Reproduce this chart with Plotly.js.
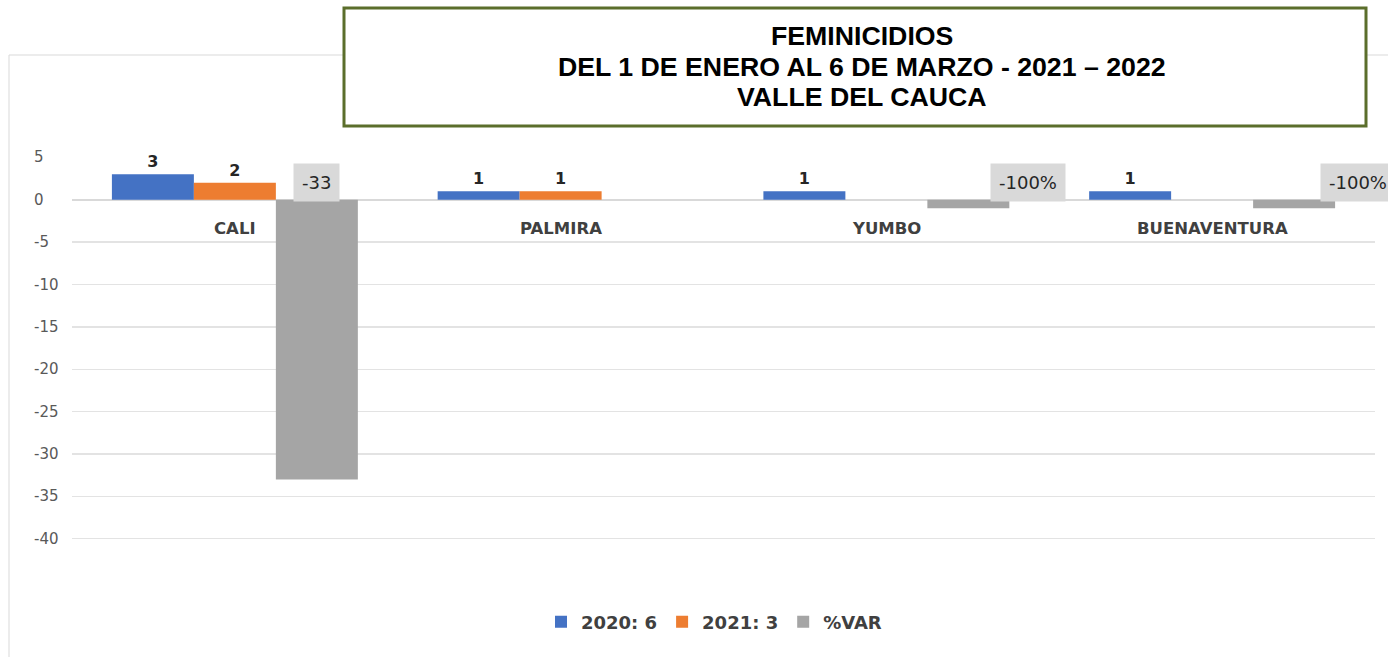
<!DOCTYPE html>
<html>
<head>
<meta charset="utf-8">
<script src="https://cdn.plot.ly/plotly-3.0.1.min.js"></script>
<style>
html,body{margin:0;padding:0;background:#fff;}
#chart{width:1388px;height:657px;}
</style>
</head>
<body>
<div id="chart"></div>
<script>
// ---- data ----
const categories = ["CALI", "PALMIRA", "YUMBO", "BUENAVENTURA"];
const series2020 = [3, 1, 1, 1];
const series2021 = [2, 1, 0, 0];
const seriesVar = [-33, 0, -1, -1];
const varLabels = ["-33", "", "-100%", "-100%"];
const seriesNames = ["2020: 6", "2021: 3", "%VAR"];
const yTicks = [5, 0, -5, -10, -15, -20, -25, -30, -35, -40];
const titleLines = ["FEMINICIDIOS", "DEL 1 DE ENERO AL 6 DE MARZO - 2021 \u2013 2022", "VALLE DEL CAUCA"];

const colors = ["#4472C4", "#ED7D31", "#A5A5A5"];
const lbl = v => v === 0 ? "" : "<b>" + v + "</b>";

const traces = [
  {type: "bar", name: "<b>" + seriesNames[0] + "</b>", x: categories, y: series2020, marker: {color: colors[0]},
   text: series2020.map(lbl), textposition: "outside", cliponaxis: false,
   textfont: {family: "DejaVu Sans", size: 16, color: "#262626"}},
  {type: "bar", name: "<b>" + seriesNames[1] + "</b>", x: categories, y: series2021, marker: {color: colors[1]},
   text: series2021.map(lbl), textposition: "outside", cliponaxis: false,
   textfont: {family: "DejaVu Sans", size: 16, color: "#262626"}},
  {type: "bar", name: "<b>" + seriesNames[2] + "</b>", x: categories, y: seriesVar, marker: {color: colors[2]},
   hoverinfo: "x+y"}
];

const L = 72, R = 13, T = 157, B = 117, W = 1388, H = 657;
const pw = W - L - R, ph = H - T - B;
const px = X => (X - L) / pw;
const py = Y => (H - B - Y) / ph;

const annotations = [];
// y tick labels, left aligned as in the reference
yTicks.forEach(v => {
  annotations.push({xref: "paper", yref: "y", x: px(32), y: v, xanchor: "left", yanchor: "middle",
    text: String(v), showarrow: false, font: {family: "DejaVu Sans", size: 15, color: "#595959"}});
});
// category labels under zero line
categories.forEach((c, i) => {
  annotations.push({xref: "x", yref: "y", x: i, y: 0, yanchor: "top", yshift: -17,
    text: "<b>" + c + "</b>", showarrow: false, font: {family: "DejaVu Sans", size: 16.5, color: "#404040"}});
});
// %VAR data labels with grey boxes
const varShift = [0, 0, 60, 64];
varLabels.forEach((t, i) => {
  if (!t) return;
  annotations.push({xref: "x", yref: "y", x: i + 0.2517, y: 2.1, yanchor: "middle", xanchor: "center",
    xshift: varShift[i], text: t, showarrow: false, bgcolor: "#D9D9D9", borderpad: 8,
    font: {family: "DejaVu Sans", size: 18, color: "#262626"}});
});
// title lines inside box
const titleY = [36, 67, 97];
titleLines.forEach((t, k) => {
  annotations.push({xref: "paper", yref: "paper", x: px(862), y: py(titleY[k]), xanchor: "center", yanchor: "middle",
    text: "<b>" + t + "</b>", showarrow: false,
    font: {family: "Liberation Sans", size: 26.7, color: "#000"}});
});

const shapes = [
  // chart area border
  {type: "rect", xref: "paper", yref: "paper", x0: px(9), x1: px(1400), y0: py(670), y1: py(55),
   line: {color: "#D9D9D9", width: 1}, fillcolor: "rgba(0,0,0,0)", layer: "below"},
  // title box
  {type: "rect", xref: "paper", yref: "paper", x0: px(344), x1: px(1366), y0: py(126), y1: py(8),
   line: {color: "#5B6E2B", width: 3}, fillcolor: "#FFFFFF", layer: "above"}
];

const layout = {
  width: W, height: H,
  margin: {l: L, r: R, t: T, b: B, pad: 0},
  paper_bgcolor: "#fff", plot_bgcolor: "#fff",
  barmode: "group", bargap: 0.245, bargroupgap: 0,
  showlegend: true,
  legend: {orientation: "h", x: px(714), xanchor: "center", y: py(622), yanchor: "middle",
    font: {family: "DejaVu Sans", size: 18, color: "#404040"}, itemwidth: 30, traceorder: "normal"},
  xaxis: {type: "category", range: [-0.5, 3.5], showticklabels: false, showgrid: false,
    zeroline: false, showline: false, ticks: ""},
  yaxis: {range: [-40.15, 5.05], tickvals: yTicks, showticklabels: false, showgrid: true,
    gridcolor: "#E3E3E3", gridwidth: 1.5, zeroline: true, zerolinecolor: "#D9D9D9", zerolinewidth: 1.5,
    showline: false, ticks: ""},
  annotations: annotations,
  shapes: shapes
};

Plotly.newPlot("chart", traces, layout, {displayModeBar: false, staticPlot: true});
</script>
</body>
</html>
